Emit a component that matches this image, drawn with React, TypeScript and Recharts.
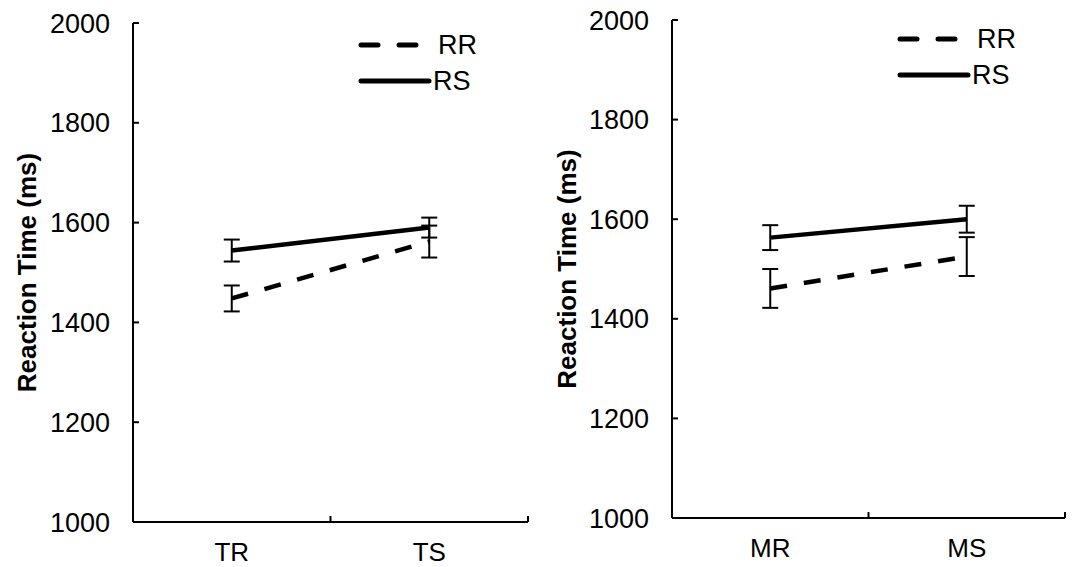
import React from "react";
import { LineChart, Line, XAxis, YAxis, ErrorBar } from "recharts";

const LEFT_CATEGORIES = ["TR", "TS"];
const LEFT_RR = [1448, 1562];
const LEFT_RR_ERR = [26, 32];
const LEFT_RS = [1544, 1590];
const LEFT_RS_ERR = [22, 20];

const RIGHT_CATEGORIES = ["MR", "MS"];
const RIGHT_RR = [1461, 1525];
const RIGHT_RR_ERR = [39, 39];
const RIGHT_RS = [1563, 1600];
const RIGHT_RS_ERR = [25, 27];

const SERIES = [
  { key: "rr", name: "RR", dashed: true },
  { key: "rs", name: "RS", dashed: false },
];
const Y_TICKS = [1000, 1200, 1400, 1600, 1800, 2000];
const Y_LABEL = "Reaction Time (ms)";
const FONT = "'Liberation Sans', Arial, sans-serif";

function buildRows(cats: string[], rr: number[], rrErr: number[], rs: number[], rsErr: number[]) {
  return cats.map((c, i) => ({ x: i + 0.5, cat: c, rr: rr[i], rrErr: rrErr[i], rs: rs[i], rsErr: rsErr[i] }));
}

// integer ticks = category boundaries (inside tick marks), half ticks = category labels
function XTick(props: any) {
  const { x, y, payload, cats } = props;
  const v = payload.value;
  if (Number.isInteger(v)) {
    return <line x1={x} y1={y} x2={x} y2={y - 6} stroke="#000" strokeWidth={2} />;
  }
  return (
    <text x={x} y={y + 39} textAnchor="middle" fontSize={26} fontFamily={FONT} fill="#000">
      {cats[Math.floor(v)]}
    </text>
  );
}

function YLabel(props: any) {
  const { viewBox } = props;
  const cx = viewBox.x + 27;
  const cy = viewBox.y + viewBox.height / 2;
  return (
    <text
      x={cx}
      y={cy}
      transform={`rotate(-90, ${cx}, ${cy})`}
      textAnchor="middle"
      dominantBaseline="central"
      fontSize={26}
      fontWeight="bold"
      fontFamily={FONT}
      fill="#000"
    >
      {Y_LABEL}
    </text>
  );
}

function LegendBox(props: { left: number; top: number }) {
  return (
    <svg width={140} height={80} style={{ position: "absolute", left: props.left, top: props.top }}>
      {SERIES.map((s, i) => {
        const y = 17 + i * 36;
        return (
          <g key={s.key}>
            <line
              x1={3}
              y1={y}
              x2={s.dashed ? 58 : 71}
              y2={y}
              stroke="#000"
              strokeWidth={5}
              strokeDasharray={s.dashed ? "17 21" : undefined}
              strokeLinecap="round"
            />
            <text x={s.dashed ? 80 : 75} y={y} dominantBaseline="central" fontSize={27} fontFamily={FONT} fill="#000">
              {s.name}
            </text>
          </g>
        );
      })}
    </svg>
  );
}

function Panel(props: { cats: string[]; rows: any[]; width: number; top: number; right: number; yWidth: number; xHeight: number }) {
  const { cats, rows, width, top, right, yWidth, xHeight } = props;
  return (
    <LineChart width={width} height={567} data={rows} margin={{ top, right, bottom: 0, left: 0 }}>
      <XAxis
        dataKey="x"
        type="number"
        domain={[0, 2]}
        ticks={[0, 0.5, 1, 1.5, 2]}
        height={xHeight}
        tickLine={false}
        tickSize={0}
        tickMargin={0}
        axisLine={{ stroke: "#000", strokeWidth: 2 }}
        tick={<XTick cats={cats} />}
        interval={0}
      />
      <YAxis
        domain={[1000, 2000]}
        ticks={Y_TICKS}
        width={yWidth}
        tickSize={-6}
        tickMargin={29}
        tickLine={{ stroke: "#000", strokeWidth: 2 }}
        axisLine={{ stroke: "#000", strokeWidth: 2 }}
        tick={{ fill: "#000", fontSize: 27, fontFamily: FONT }}
        label={<YLabel />}
        interval={0}
      />
      {SERIES.map((s) => (
        <Line
          key={s.key}
          dataKey={s.key}
          name={s.name}
          stroke="#000"
          strokeWidth={4.5}
          strokeDasharray={s.dashed ? "17 17" : undefined}
          dot={false}
          isAnimationActive={false}
        >
          <ErrorBar dataKey={s.key + "Err"} width={8} stroke="#000" strokeWidth={2} direction="y" />
        </Line>
      ))}
    </LineChart>
  );
}

export default function App() {
  const leftRows = buildRows(LEFT_CATEGORIES, LEFT_RR, LEFT_RR_ERR, LEFT_RS, LEFT_RS_ERR);
  const rightRows = buildRows(RIGHT_CATEGORIES, RIGHT_RR, RIGHT_RR_ERR, RIGHT_RS, RIGHT_RS_ERR);
  return (
    <div style={{ position: "absolute", left: 0, top: 0, width: 1074, height: 567, background: "#fff", fontFamily: FONT }}>
      <div style={{ position: "absolute", left: 0, top: 0 }}>
        <Panel cats={LEFT_CATEGORIES} rows={leftRows} width={540} top={23} right={12} yWidth={133} xHeight={45} />
      </div>
      <div style={{ position: "absolute", left: 540, top: 0 }}>
        <Panel cats={RIGHT_CATEGORIES} rows={rightRows} width={534} top={20} right={9} yWidth={132} xHeight={49} />
      </div>
      <LegendBox left={358} top={28} />
      <LegendBox left={897} top={22} />
    </div>
  );
}
